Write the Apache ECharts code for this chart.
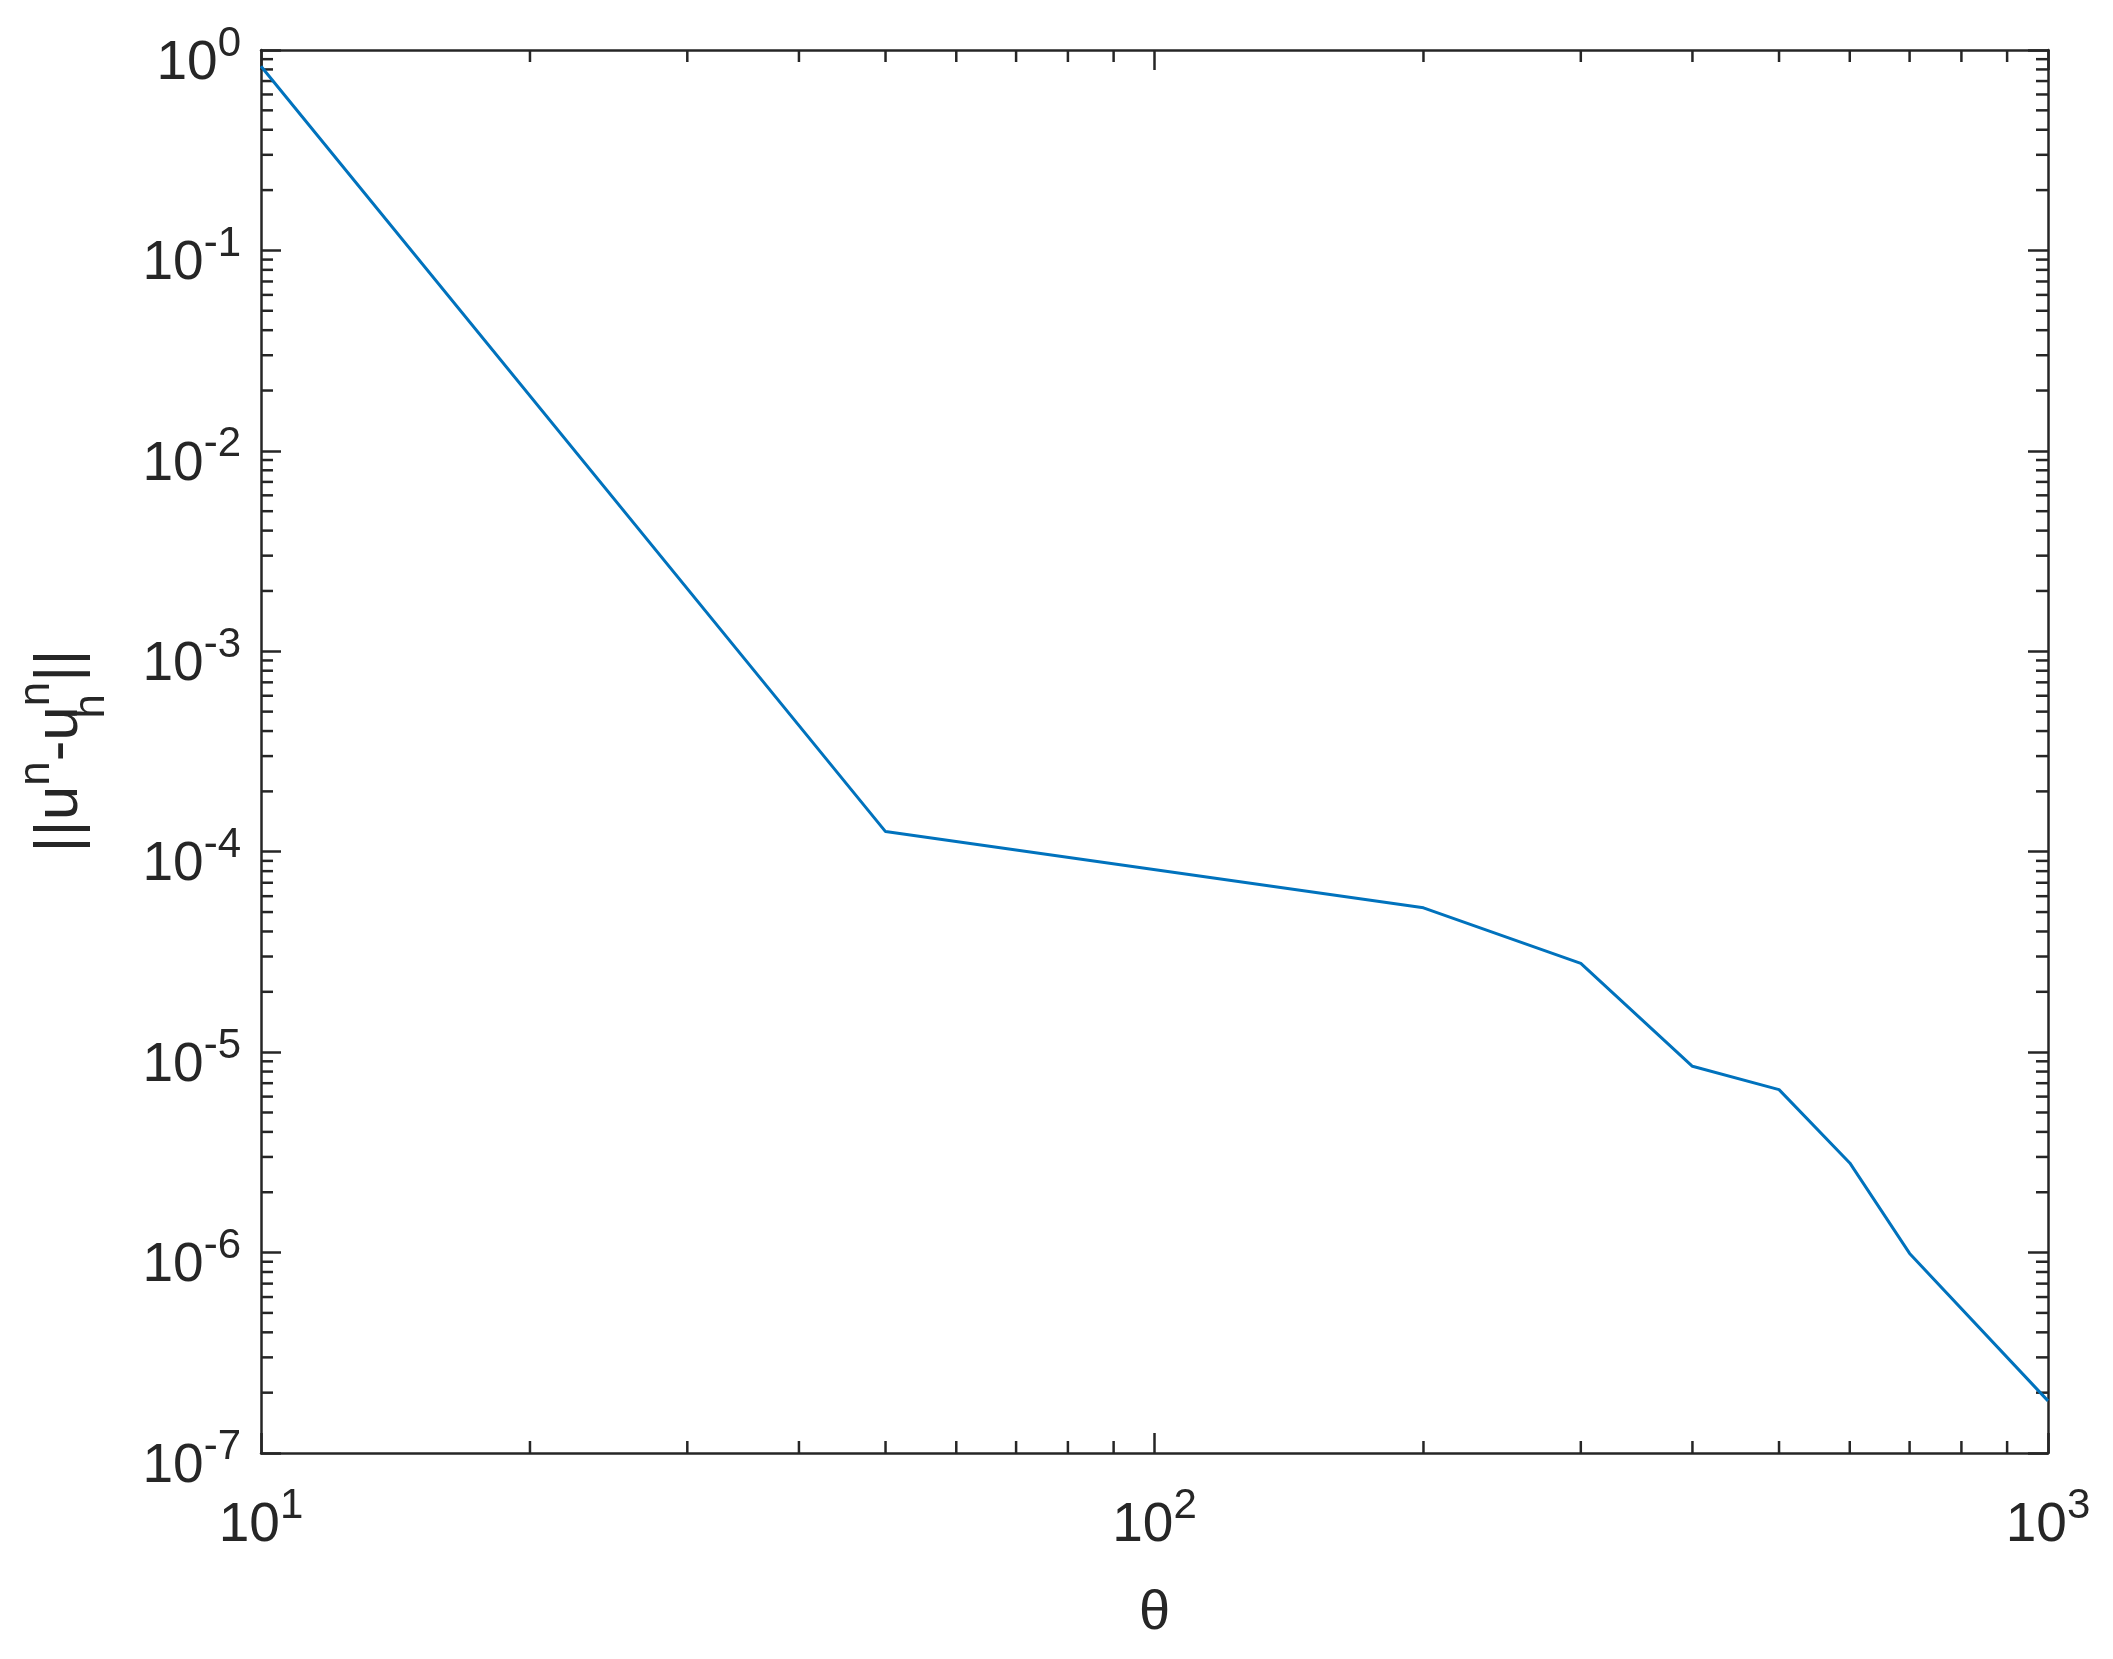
<!DOCTYPE html>
<html>
<head>
<meta charset="utf-8">
<script src="https://cdn.jsdelivr.net/npm/echarts@6/dist/echarts.min.js"></script>
<style>
html,body{margin:0;padding:0;background:#fff;}
#chart{width:2113px;height:1659px;}
</style>
</head>
<body>
<div id="chart"></div>
<script>
// ---- data ----
const thetaValues = [10, 50, 200, 300, 400, 500, 600, 700, 1000];
const errorValues = [0.83, 1.26e-4, 5.25e-5, 2.77e-5, 8.5e-6, 6.5e-6, 2.8e-6, 9.9e-7, 1.82e-7];
const xMinorTicks = [20, 30, 40, 50, 60, 70, 80, 90, 200, 300, 400, 500, 600, 700, 800, 900];
const yMinorMantissas = [2, 3, 4, 5, 6, 7, 8, 9];
const yDecades = [-7, -6, -5, -4, -3, -2, -1];
const xAxisTitle = 'θ';

const axisColor = '#262626';
const lineColor = '#0072BD';
const fontFam = '"Liberation Sans", Arial, Helvetica, sans-serif';

const seriesData = thetaValues.map((t, i) => [t, errorValues[i]]);
const tickData = [];
xMinorTicks.forEach(v => tickData.push([v, 1e-3, 0]));
yDecades.forEach(d => yMinorMantissas.forEach(m => tickData.push([15, m * Math.pow(10, d), 1])));

function powLabel(v) {
  const e = Math.round(Math.log10(v));
  return '{b|10}{s|' + e + '}';
}
const labelRich = {
  b: { fontSize: 55, fontFamily: fontFam, color: axisColor, lineHeight: 64 },
  s: { fontSize: 42, fontFamily: fontFam, color: axisColor, padding: [0, 0, 39, 0] }
};

const chart = echarts.init(document.getElementById('chart'), null, { renderer: 'canvas' });

const common = {
  type: 'log', logBase: 10,
  axisLine: { show: true, lineStyle: { color: axisColor, width: 2.5 } },
  axisTick: { show: true, inside: true, length: 20, lineStyle: { color: axisColor, width: 2.5 } },
  splitLine: { show: false },
  minorTick: { show: false }
};

chart.setOption({
  backgroundColor: '#ffffff',
  animation: false,
  grid: { left: 261, right: 65, top: 50, bottom: 206, containLabel: false },
  xAxis: [
    Object.assign({}, common, {
      min: 10, max: 1000, splitNumber: 2, position: 'bottom',
      axisLabel: { show: true, margin: 32, formatter: powLabel, rich: labelRich },
      name: xAxisTitle, nameLocation: 'middle', nameGap: 133, nameMoveOverlap: false,
      nameTextStyle: { fontSize: 56, fontFamily: fontFam, color: axisColor }
    }),
    Object.assign({}, common, {
      min: 10, max: 1000, splitNumber: 2, position: 'top',
      axisLabel: { show: false }
    })
  ],
  yAxis: [
    Object.assign({}, common, {
      min: 1e-7, max: 1, splitNumber: 7, position: 'left',
      axisLabel: { show: true, margin: 20, formatter: powLabel, rich: labelRich, padding: [27, 0, 0, 0] }
    }),
    Object.assign({}, common, {
      min: 1e-7, max: 1, splitNumber: 7, position: 'right',
      axisLabel: { show: false }
    })
  ],
  graphic: [{
    type: 'text',
    x: 60, y: 751,
    rotation: Math.PI / 2,
    style: {
      text: '{m|||u}{s|n}{m|-u}{h|h}{s|n}{m|||}',
      align: 'center', verticalAlign: 'middle',
      rich: {
        m: { fontSize: 62, fontFamily: fontFam, fill: axisColor, lineHeight: 70 },
        s: { fontSize: 44, fontFamily: fontFam, fill: axisColor, padding: [0, 0, 47, 0] },
        h: { fontSize: 44, fontFamily: fontFam, fill: axisColor, padding: [64, 0, 0, 0], width: 0 }
      }
    }
  }],
  series: [
    {
      type: 'line',
      data: seriesData,
      xAxisIndex: 0, yAxisIndex: 0,
      showSymbol: false, symbol: 'none',
      lineStyle: { color: lineColor, width: 3 },
      clip: false
    },
    {
      type: 'custom',
      xAxisIndex: 0, yAxisIndex: 0,
      data: tickData,
      clip: false,
      silent: true,
      renderItem: function (params, api) {
        const cs = params.coordSys;
        const kind = api.value(2);
        const style = { stroke: axisColor, lineWidth: 2.5 };
        const L = 12;
        if (kind === 0) {
          const px = api.coord([api.value(0), api.value(1)])[0];
          return { type: 'group', children: [
            { type: 'line', shape: { x1: px, y1: cs.y + cs.height, x2: px, y2: cs.y + cs.height - L }, style: style },
            { type: 'line', shape: { x1: px, y1: cs.y, x2: px, y2: cs.y + L }, style: style }
          ]};
        } else {
          const py = api.coord([api.value(0), api.value(1)])[1];
          return { type: 'group', children: [
            { type: 'line', shape: { x1: cs.x, y1: py, x2: cs.x + L, y2: py }, style: style },
            { type: 'line', shape: { x1: cs.x + cs.width, y1: py, x2: cs.x + cs.width - L, y2: py }, style: style }
          ]};
        }
      }
    }
  ]
});
</script>
</body>
</html>
